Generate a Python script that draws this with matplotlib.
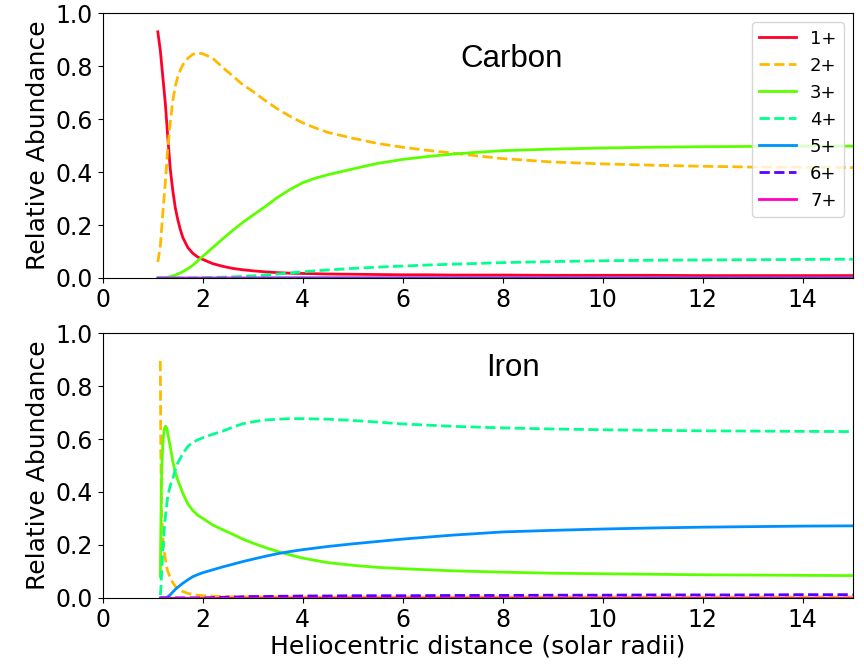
import numpy as np
import matplotlib
matplotlib.use("Agg")
import matplotlib.pyplot as plt

# ---------------- data ----------------
ion_labels = ["1+", "2+", "3+", "4+", "5+", "6+", "7+"]

carbon_x = [1.1, 1.15, 1.2, 1.25, 1.3, 1.35, 1.4, 1.45, 1.5, 1.55, 1.6, 1.7, 1.8, 1.9,
            2.0, 2.2, 2.4, 2.6, 2.8, 3.0, 3.25, 3.5, 3.75, 4.0, 4.25, 4.5, 5.0, 5.5,
            6.0, 6.5, 7.0, 7.5, 8.0, 9.0, 10.0, 11.0, 12.0, 13.0, 14.0, 15.0]
carbon_1 = [0.93, 0.86, 0.76, 0.66, 0.53, 0.41, 0.33, 0.265, 0.22, 0.183, 0.153, 0.115,
            0.093, 0.079, 0.07,
            0.054, 0.044, 0.036, 0.031, 0.027, 0.023, 0.020, 0.018, 0.017,
            0.016, 0.015, 0.014, 0.013, 0.012, 0.012, 0.011, 0.011, 0.011,
            0.010, 0.010, 0.010, 0.009, 0.009, 0.009, 0.009]
carbon_2 = [0.06, 0.12, 0.245, 0.36, 0.49, 0.59, 0.67, 0.725, 0.76, 0.785, 0.805, 0.83,
            0.845, 0.85, 0.847,
            0.83, 0.795, 0.763, 0.73, 0.705, 0.67, 0.638, 0.61, 0.586,
            0.567, 0.55, 0.528, 0.508, 0.494, 0.482, 0.472, 0.461, 0.451,
            0.438, 0.431, 0.426, 0.422, 0.419, 0.418, 0.417]
carbon_3 = [0.0, 0.0, 0.0, 0.001, 0.003, 0.005, 0.008, 0.011, 0.015, 0.019, 0.024, 0.035,
            0.048, 0.065, 0.082,
            0.115, 0.148, 0.18, 0.21, 0.237, 0.27, 0.305, 0.335, 0.36,
            0.377, 0.39, 0.412, 0.433, 0.448, 0.459, 0.468, 0.475, 0.481,
            0.487, 0.491, 0.494, 0.496, 0.497, 0.498, 0.498]
carbon_4 = [0.0] * 13 + [0.001, 0.001,
            0.002, 0.003, 0.004, 0.006, 0.008, 0.011, 0.015, 0.019, 0.023,
            0.027, 0.03, 0.036, 0.041, 0.045, 0.049, 0.052, 0.055, 0.058,
            0.062, 0.065, 0.067, 0.068, 0.069, 0.070, 0.071]
carbon_5 = [0.0] * 20 + [0.001] * 20
carbon_6 = [0.0] * 40
carbon_7 = [0.0] * 40

iron_x = [1.15, 1.16, 1.17, 1.18, 1.2, 1.22, 1.24, 1.26, 1.28, 1.3, 1.35, 1.4, 1.45, 1.5,
          1.6, 1.7, 1.8, 1.9, 2.0, 2.2, 2.4, 2.6, 2.8, 3.0, 3.25, 3.5, 3.75, 4.0, 4.5,
          5.0, 5.5, 6.0, 7.0, 8.0, 9.0, 10.0, 11.0, 12.0, 13.0, 14.0, 15.0]
iron_1 = [0.0] * 41
iron_2 = [0.895, 0.55, 0.38, 0.30, 0.23, 0.19, 0.16, 0.135, 0.115, 0.10, 0.075, 0.057,
          0.044, 0.034, 0.024, 0.017, 0.012, 0.010, 0.008, 0.006, 0.005, 0.004, 0.004,
          0.004, 0.004, 0.004, 0.003, 0.003, 0.003, 0.003, 0.003, 0.003, 0.003, 0.003,
          0.003, 0.003, 0.003, 0.003, 0.003, 0.003, 0.003]
iron_3 = [0.08, 0.25, 0.40, 0.50, 0.58, 0.625, 0.645, 0.648, 0.64, 0.62, 0.57, 0.515,
          0.475, 0.445, 0.395, 0.355, 0.33, 0.312, 0.30, 0.275, 0.257, 0.24, 0.222, 0.207,
          0.19, 0.175, 0.162, 0.15, 0.133, 0.123, 0.115, 0.11, 0.102, 0.097, 0.093, 0.091,
          0.089, 0.087, 0.086, 0.085, 0.084]
iron_4 = [0.01, 0.03, 0.07, 0.11, 0.18, 0.24, 0.285, 0.32, 0.355, 0.385, 0.425, 0.45,
          0.485, 0.51, 0.545, 0.572, 0.588, 0.597, 0.605, 0.618, 0.63, 0.645, 0.658,
          0.665, 0.672, 0.675, 0.677, 0.677, 0.675, 0.67, 0.664, 0.657, 0.648, 0.642,
          0.638, 0.635, 0.633, 0.631, 0.630, 0.629, 0.628]
iron_5 = [0.0, 0.0, 0.0, 0.0, 0.0, 0.0, 0.0, 0.0, 0.001, 0.004, 0.012, 0.022, 0.032, 0.04,
          0.055, 0.068, 0.08, 0.088, 0.095, 0.106, 0.117, 0.127, 0.137, 0.146, 0.157,
          0.167, 0.175, 0.182, 0.194, 0.204, 0.213, 0.222, 0.237, 0.249, 0.255, 0.26,
          0.264, 0.267, 0.269, 0.271, 0.272]
iron_6 = [0.0] * 19 + [0.001, 0.002, 0.003, 0.004, 0.005, 0.005, 0.006, 0.006, 0.007,
                       0.007, 0.008, 0.008, 0.008, 0.009, 0.009, 0.010, 0.010, 0.011,
                       0.011, 0.011, 0.012, 0.012]
iron_7 = [0.0] * 41

carbon_series = [carbon_1, carbon_2, carbon_3, carbon_4, carbon_5, carbon_6, carbon_7]
iron_series = [iron_1, iron_2, iron_3, iron_4, iron_5, iron_6, iron_7]

x_ticks = [0, 2, 4, 6, 8, 10, 12, 14]
y_ticks = [0.0, 0.2, 0.4, 0.6, 0.8, 1.0]

# ---------------- style ----------------
colors = plt.cm.gist_rainbow(np.linspace(0, 1, 7))
styles = ["-", "--", "-", "--", "-", "--", "-"]

fig = plt.figure(figsize=(8.64, 6.65), dpi=100)
ax1 = fig.add_axes([0.119, 0.582, 0.868, 0.398])
ax2 = fig.add_axes([0.119, 0.101, 0.868, 0.398])

for ax, xs, series in [(ax1, carbon_x, carbon_series), (ax2, iron_x, iron_series)]:
    for ys, c, ls, lab in zip(series, colors, styles, ion_labels):
        ax.plot(xs, ys, color=c, linestyle=ls, lw=2.0, label=lab)
    ax.set_xlim(0, 15)
    ax.set_ylim(0, 1.0)
    ax.set_xticks(x_ticks)
    ax.set_yticks(y_ticks)
    ax.tick_params(labelsize=17)
    ax.set_ylabel("Relative Abundance", fontsize=18)

ax1.legend(loc="upper right", fontsize=13, handlelength=2.0)
ax2.set_xlabel("Heliocentric distance (solar radii)", fontsize=18, labelpad=2)

ax1.text(0.545, 0.826, "Carbon", transform=ax1.transAxes, ha="center", va="center",
         fontsize=22.5, family="Liberation Sans")
ax2.text(0.547, 0.868, "Iron", transform=ax2.transAxes, ha="center", va="center",
         fontsize=22.5, family="Liberation Sans")

fig.savefig("out.png", dpi=100)
